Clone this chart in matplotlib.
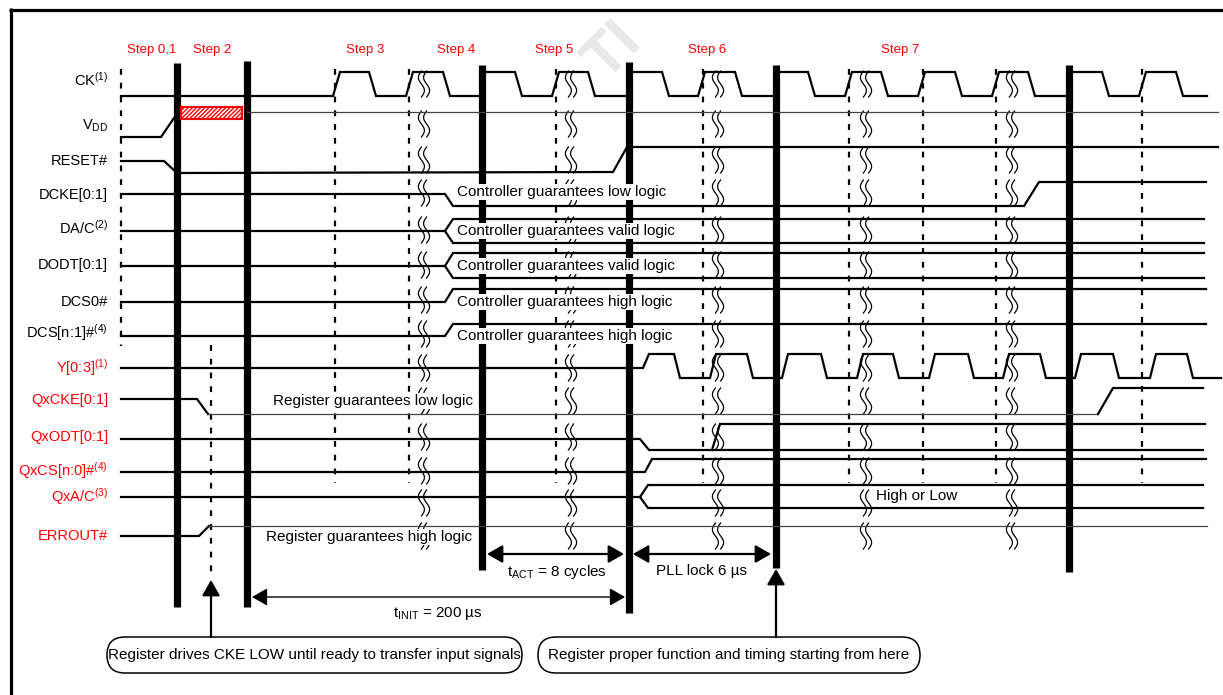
import numpy as np
import matplotlib.pyplot as plt
from matplotlib.patches import Rectangle, FancyBboxPatch

plt.rcParams['mathtext.fontset'] = 'custom'
plt.rcParams['mathtext.rm'] = 'Liberation Sans'
plt.rcParams['mathtext.it'] = 'Liberation Sans:italic'
plt.rcParams['mathtext.bf'] = 'Liberation Sans:bold'

FONT = ['Liberation Sans', 'DejaVu Sans']

# ---- diagram content (x in px along the time axis) ----
signal_names = ['CK$^{\\mathrm{(1)}}$', 'V$_{\\mathrm{DD}}$', 'RESET#', 'DCKE[0:1]',
                'DA/C$^{\\mathrm{(2)}}$', 'DODT[0:1]', 'DCS0#', 'DCS[n:1]#$^{\\mathrm{(4)}}$',
                'Y[0:3]$^{\\mathrm{(1)}}$', 'QxCKE[0:1]', 'QxODT[0:1]',
                'QxCS[n:0]#$^{\\mathrm{(4)}}$', 'QxA/C$^{\\mathrm{(3)}}$', 'ERROUT#']
register_side = [False] * 8 + [True] * 6

step_names = ['Step 0,1', 'Step 2', 'Step 3', 'Step 4', 'Step 5', 'Step 6', 'Step 7']
step_x = [152, 212, 365, 456, 554, 707, 900]

bar_x = [177, 247, 482, 629, 776, 1069]
bar_top = [63, 61, 65, 62, 65, 65]
bar_bottom = [607, 607, 570, 613, 568, 572]

ck_rise = [333, 406, 482, 552, 629, 698, 776, 845, 918, 992, 1069, 1139]
ck_fall = [369, 443, 515, 588, 662, 735, 808, 881, 955, 1028, 1102, 1176]
y_rise = [643, 710, 782, 857, 929, 1003, 1075, 1150]
y_fall = [674, 747, 821, 893, 968, 1040, 1113, 1187]

edge_x = [335, 409, 556, 703, 849, 923, 996, 1142]   # dashed reference edges
break_x = [424, 571, 718, 866, 1012]

controller_notes = ['Controller guarantees low logic', 'Controller guarantees valid logic',
                    'Controller guarantees valid logic', 'Controller guarantees high logic',
                    'Controller guarantees high logic']

# ---- layout ----
row_y = [80, 126, 161, 195, 228, 265, 302, 333, 368, 400, 437, 471, 497, 536]
break_y = [84, 124, 160, 193, 230, 265, 300, 334, 368, 401, 437, 471, 503, 536]
note_y = [192, 231, 266, 302, 336]
X0 = 121
CK_LO, CK_HI = 96, 72
Y_LO, Y_HI, Y_MID = 378, 354, 368
LW = 1.6
THIN = dict(lw=0.9, color='#444444', zorder=6)
BOLD = dict(lw=LW, color='black', zorder=6, solid_joinstyle='miter')

fig = plt.figure(figsize=(12.23, 6.95), dpi=100)
ax = fig.add_axes([0, 0, 1, 1])
ax.set_xlim(0, 1223)
ax.set_ylim(695, 0)
ax.axis('off')

# frame
ax.plot([9, 1223], [9.5, 9.5], color='black', lw=2.3, solid_capstyle='butt', zorder=8)
ax.plot([10.5, 10.5], [8, 695], color='black', lw=2.3, solid_capstyle='butt', zorder=8)

# watermark
ax.text(614, 52, 'TI', fontsize=44, fontweight='bold', color='#e9e9e9',
        rotation=45, ha='center', va='center', family=FONT, zorder=0)

# step titles
for name, x in zip(step_names, step_x):
    ax.text(x, 50, name, color='red', fontsize=9.5, ha='center', va='center', family=FONT)

# signal labels
for name, y, reg in zip(signal_names, row_y, register_side):
    ax.text(108, y, name, color='red' if reg else 'black', fontsize=10.5,
            ha='right', va='center', family=FONT)

# dashed edge markers
dash = dict(color='black', lw=1.6, linestyle=(0, (2.6, 3.6)), zorder=2)
ax.plot([X0, X0], [69, 346], **dash)
ax.plot([211, 211], [345, 578], **dash)
for x in edge_x:
    ax.plot([x, x], [69, 483], **dash)

# phase bars
for x, t, b in zip(bar_x, bar_top, bar_bottom):
    ax.plot([x, x], [t, b], color='black', lw=5.2, solid_capstyle='butt', zorder=3)

# break marks
t = np.linspace(0, 1, 40)
for bx in break_x:
    for by in break_y:
        for off in (-2.6, 2.6):
            ax.plot(bx + off - 3.0 * np.sin(2 * np.pi * t), by - 13 + 26 * t,
                    color='black', lw=0.9, zorder=4)


def clock(rises, falls, lo, hi, x_end, start=None, slew=7):
    xs, ys = [X0], [lo if start is None else start]
    for r, f in zip(rises, falls):
        s = 0 if r in bar_x else slew
        xs += [r, r + s, f, f + slew]
        ys += [lo, hi, hi, lo]
    xs.append(x_end)
    ys.append(lo)
    if start is not None:
        ys[1] = start
    return xs, ys


xs, ys = clock(ck_rise, ck_fall, CK_LO, CK_HI, 1207)
ax.plot(xs, ys, **BOLD)
xs, ys = clock(y_rise, y_fall, Y_LO, Y_HI, 1221, start=Y_MID, slew=6)
ax.plot(xs, ys, **BOLD)

# VDD
ax.plot([X0, 161, 174], [137, 137, 118], **BOLD)
ax.add_patch(Rectangle((181, 107), 61, 12, fill=False, edgecolor='red', lw=1.5,
                       hatch='////////', zorder=6))
ax.plot([247, 1218], [112, 112], **THIN)

# RESET#
ax.plot([X0, 164, 177, 613, 627, 1218], [161, 161, 173, 172, 147, 147], **BOLD)

# DCKE
ax.plot([X0, 445, 453, 1024, 1039, 1206], [194, 194, 206, 206, 182, 182], **BOLD)

# DA/C, DODT : valid windows
for y, up, dn in [(231, 219, 243), (266, 253, 278)]:
    ax.plot([X0, 445], [y, y], **BOLD)
    ax.plot([445, 453, 1204], [y, up, up], **BOLD)
    ax.plot([445, 453, 1204], [y, dn, dn], **BOLD)

# DCS0#, DCS[n:1]#
ax.plot([X0, 445, 453, 1206], [302, 302, 289, 289], **BOLD)
ax.plot([X0, 445, 453, 1206], [336, 336, 324, 324], **BOLD)

# QxCKE
ax.plot([X0, 197, 208], [399, 399, 414], **BOLD)
ax.plot([208, 1098], [414, 414], **THIN)
ax.plot([1098, 1113, 1203], [414, 388, 388], **BOLD)

# QxODT
ax.plot([X0, 640, 649, 1203], [439, 439, 450, 450], **BOLD)
ax.plot([712, 720, 1205], [450, 424, 424], **BOLD)

# QxCS
ax.plot([X0, 645, 652, 1206], [472, 472, 459, 459], **BOLD)

# QxA/C
ax.plot([X0, 640], [497, 497], **BOLD)
ax.plot([640, 648, 1203], [497, 485, 485], **BOLD)
ax.plot([640, 648, 1203], [497, 508, 508], **BOLD)

# ERROUT#
ax.plot([X0, 199, 209], [536, 536, 526], **BOLD)
ax.plot([209, 1207], [526, 526], **THIN)

# notes with white backing
box = dict(facecolor='white', edgecolor='none', pad=0.6)
for note, y in zip(controller_notes, note_y):
    ax.text(457, y, note, fontsize=11, ha='left', va='center', family=FONT,
            bbox=box, zorder=5)
ax.text(373, 401, 'Register guarantees low logic', fontsize=11, ha='center', va='center',
        family=FONT, bbox=box, zorder=5)
ax.text(369, 537, 'Register guarantees high logic', fontsize=11, ha='center', va='center',
        family=FONT, bbox=box, zorder=5)
ax.text(876, 496, 'High or Low', fontsize=11, ha='left', va='center', family=FONT,
        bbox=box, zorder=5)

# timing arrows
arr = dict(arrowstyle='<|-|>,head_length=0.47,head_width=0.27', color='black',
           lw=1.6, shrinkA=0, shrinkB=0, mutation_scale=20)
ax.annotate('', xy=(487, 554), xytext=(624, 554), arrowprops=arr, zorder=6)
ax.annotate('', xy=(633, 554), xytext=(771, 554), arrowprops=arr, zorder=6)
ax.annotate('', xy=(252, 597), xytext=(625, 597), arrowprops=dict(arr, lw=1.0), zorder=6)
ax.text(557, 572, 't$_{\\mathrm{ACT}}$ = 8 cycles', fontsize=11, ha='center', va='center',
        family=FONT)
ax.text(701, 571, 'PLL lock 6 \u00b5s', fontsize=11, ha='center', va='center', family=FONT)
ax.text(438, 614, 't$_{\\mathrm{INIT}}$ = 200 \u00b5s', fontsize=11, ha='center', va='center',
        family=FONT)

# callouts
up = dict(arrowstyle='-|>,head_length=0.47,head_width=0.27', color='black', lw=1.6,
          shrinkA=0, shrinkB=0, mutation_scale=20)
ax.annotate('', xy=(211, 580), xytext=(211, 637), arrowprops=up, zorder=6)
ax.annotate('', xy=(776, 569), xytext=(776, 637), arrowprops=up, zorder=6)

callouts = ['Register drives CKE LOW until ready to transfer input signals',
            'Register proper function and timing starting from here']
for text, (x0, w) in zip(callouts, [(107, 415), (538, 382)]):
    ax.add_patch(FancyBboxPatch((x0, 637), w, 36, boxstyle='round,pad=0,rounding_size=18',
                                facecolor='white', edgecolor='black', lw=1.1, zorder=5))
    ax.text(x0 + w / 2, 655, text, fontsize=11, ha='center', va='center',
            family=FONT, zorder=6)

fig.savefig('out.png', dpi=100)
